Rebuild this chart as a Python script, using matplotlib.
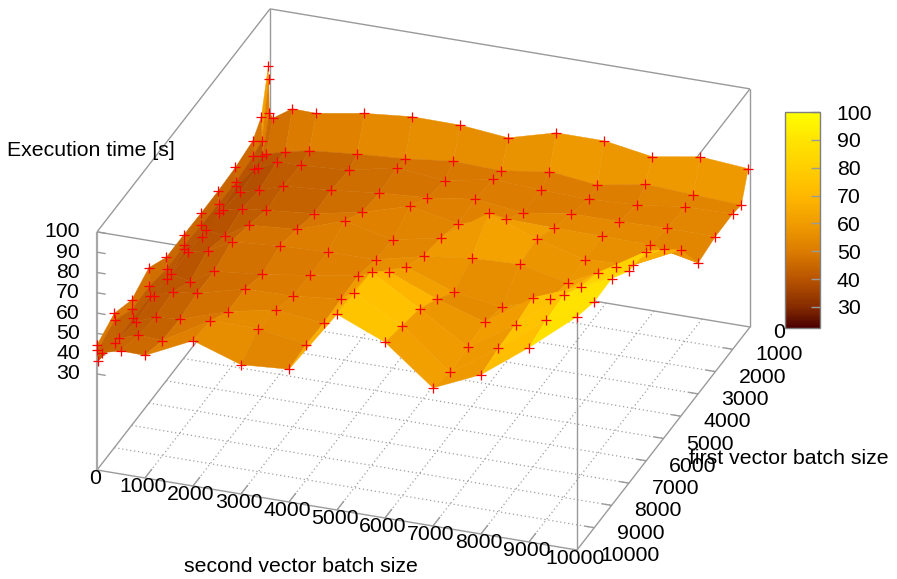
import numpy as np
import matplotlib
matplotlib.use('Agg')
import matplotlib.pyplot as plt
from matplotlib.collections import PolyCollection, LineCollection
from matplotlib.colors import LinearSegmentedColormap, Normalize
from matplotlib.cm import ScalarMappable

plt.rcParams['font.family'] = ['Liberation Sans', 'DejaVu Sans']

# batch sizes of the measurements
second_batch = [1, 10, 20, 100, 500, 1000, 2000, 3000, 4000, 5000, 6000, 7000, 8000, 9000, 10000]
first_batch = [100, 500, 1000, 2000, 3000, 4000, 5000, 6000, 7000, 8000, 9000, 10000]

# execution time, one row per first batch size
t_100 = [72.9, 66.4, 49.9, 47.7, 53.9, 53.6, 57.5, 59.8, 59.6, 57.3, 63.7, 63.7, 59.8, 63.7, 61.8]
t_500 = [52.4, 40.6, 33.2, 34.4, 37.0, 39.6, 41.8, 43.5, 46.2, 45.4, 49.0, 46.3, 50.6, 49.4, 48.3]
t_1000 = [46.0, 38.5, 32.3, 32.8, 37.7, 37.9, 39.4, 44.6, 42.1, 46.7, 45.4, 44.8, 46.0, 49.0, 49.4]
t_2000 = [43.9, 36.8, 34.7, 32.2, 34.6, 38.7, 40.5, 43.1, 44.7, 47.9, 45.1, 48.7, 48.7, 49.4, 49.2]
t_3000 = [43.2, 37.0, 32.3, 34.3, 36.5, 37.7, 40.0, 44.6, 51.5, 46.8, 53.1, 52.6, 52.5, 52.1, 47.2]
t_4000 = [43.2, 37.5, 31.7, 35.4, 34.0, 41.4, 43.2, 51.3, 45.9, 50.9, 66.9, 58.1, 52.0, 53.2, 64.6]
t_5000 = [43.5, 38.6, 36.5, 35.7, 37.8, 44.2, 46.0, 47.0, 47.2, 52.7, 55.7, 56.7, 51.6, 63.1, 75.9]
t_6000 = [43.5, 37.9, 32.7, 35.7, 33.5, 40.6, 43.0, 46.5, 50.2, 58.6, 49.9, 46.7, 54.4, 71.4, 85.8]
t_7000 = [49.4, 40.4, 35.5, 35.9, 39.5, 40.7, 46.8, 47.3, 49.6, 67.1, 57.5, 50.1, 66.1, 75.5, 87.2]
t_8000 = [44.5, 39.9, 35.8, 34.2, 38.1, 38.9, 46.6, 51.4, 48.8, 78.1, 63.8, 48.9, 63.8, 82.3, 94.4]
t_9000 = [48.9, 45.6, 34.4, 37.0, 40.2, 39.4, 53.1, 53.1, 49.3, 78.5, 66.4, 47.4, 63.1, 81.1, 94.0]
t_10000 = [44.3, 41.8, 36.4, 40.9, 43.3, 43.1, 54.3, 46.4, 48.1, 79.1, 69.3, 50.7, 61.2, 78.5, 97.6]
times = np.array([t_100, t_500, t_1000, t_2000, t_3000, t_4000, t_5000, t_6000,
                  t_7000, t_8000, t_9000, t_10000])

x_ticks = [0, 1000, 2000, 3000, 4000, 5000, 6000, 7000, 8000, 9000, 10000]
y_ticks = [0, 1000, 2000, 3000, 4000, 5000, 6000, 7000, 8000, 9000, 10000]
z_ticks = [30, 40, 50, 60, 70, 80, 90, 100]
cb_ticks = [30, 40, 50, 60, 70, 80, 90, 100]

z_bottom = -17.3
cb_low = 22.4
cb_high = 100

gray = '#9a9a9a'
fs = 15.3


def proj(x, y, z=z_bottom):
    # gnuplot style parallel projection, in pixels of the picture
    x = np.asarray(x, dtype=float)
    y = np.asarray(y, dtype=float)
    z = np.asarray(z, dtype=float)
    px = 97 + 480 * x / 10000 + 173 * (10000 - y) / 10000
    py = 470 + 80 * x / 10000 - 223 * (10000 - y) / 10000 - 2.03 * (z - z_bottom)
    return px, py


def seg(a, b):
    return [tuple(float(v) for v in proj(*a)), tuple(float(v) for v in proj(*b))]


fig = plt.figure(figsize=(8.97, 5.79), dpi=100)
ax = fig.add_axes([0, 0, 1, 1])
ax.set_xlim(0, 897)
ax.set_ylim(579, 0)
ax.axis('off')

# box behind the surface
box = [seg((0, 10000), (10000, 10000)), seg((10000, 10000), (10000, 0)),
       seg((10000, 0), (0, 0)), seg((0, 0), (0, 10000)),
       seg((0, 10000, 100), (0, 0, 100)), seg((0, 0, 100), (10000, 0, 100)),
       seg((0, 10000, 100), (10000, 10000, 100)), seg((10000, 10000, 100), (10000, 0, 100)),
       seg((0, 0), (0, 0, 100)), seg((10000, 0), (10000, 0, 100)),
       seg((10000, 10000), (10000, 10000, 100))]
ax.add_collection(LineCollection(box, colors=gray, linewidths=1.0, zorder=1))
ax.add_collection(LineCollection([seg((0, 10000), (0, 10000, 100))], colors='#a8a8a8',
                                 linewidths=1.6, zorder=1))

# dotted floor grid
grid = [seg((v, 0), (v, 10000)) for v in x_ticks[1:-1]] + [seg((0, v), (10000, v)) for v in y_ticks[1:-1]]
ax.add_collection(LineCollection(grid, colors='#a0a0a0', linewidths=0.9, linestyles=(0, (1, 2.2)), zorder=1))

# tick marks
marks = [seg((v, 10000), (v, 9600)) for v in x_ticks[1:-1]] + [seg((10000, v), (9800, v)) for v in y_ticks[1:-1]]
ax.add_collection(LineCollection(marks, colors=gray, linewidths=1.0, zorder=1))
z_marks = [seg((0, 10000, v), (180, 10000, v)) for v in z_ticks]
ax.add_collection(LineCollection(z_marks, colors=gray, linewidths=1.0, zorder=1))

# surface, back to front
cmap = LinearSegmentedColormap.from_list('hotish', [
    (0.0, '#4a0000'),
    ((30 - cb_low) / (cb_high - cb_low), '#862c00'),
    ((40 - cb_low) / (cb_high - cb_low), '#b85400'),
    ((50 - cb_low) / (cb_high - cb_low), '#dc7c00'),
    ((60 - cb_low) / (cb_high - cb_low), '#f09c00'),
    ((70 - cb_low) / (cb_high - cb_low), '#ffb800'),
    ((80 - cb_low) / (cb_high - cb_low), '#ffcf00'),
    ((90 - cb_low) / (cb_high - cb_low), '#ffe400'),
    (1.0, '#ffff00')])
norm = Normalize(cb_low, cb_high)
surf_norm = Normalize(cb_low - 6, cb_high)

polys = []
means = []
for j in range(len(first_batch) - 1):
    for i in range(len(second_batch) - 1):
        xs = [second_batch[i], second_batch[i + 1], second_batch[i + 1], second_batch[i]]
        ys = [first_batch[j], first_batch[j], first_batch[j + 1], first_batch[j + 1]]
        zs = [times[j, i], times[j, i + 1], times[j + 1, i + 1], times[j + 1, i]]
        px, py = proj(xs, ys, zs)
        polys.append(np.column_stack([px, py]))
        means.append(np.mean(zs))
surface = PolyCollection(polys, array=np.array(means), cmap=cmap, norm=surf_norm,
                         edgecolors='face', linewidths=0.3, zorder=2)
ax.add_collection(surface)

# measured points
gx, gy = np.meshgrid(second_batch, first_batch)
px, py = proj(gx.ravel(), gy.ravel(), times.ravel())
ax.scatter(px, py, marker='+', s=48, c='#ff0000', linewidths=0.9, zorder=3)

# tick labels
for v in z_ticks:
    tx, ty = proj(0, 10000, v)
    ax.text(tx - 17, ty, str(v), ha='right', va='center', fontsize=fs, zorder=4)
for v in x_ticks:
    tx, ty = proj(v, 10000)
    ax.text(tx - 2, ty + 8.5, str(v), ha='center', va='center', fontsize=fs, zorder=4)
for v in y_ticks:
    tx, ty = proj(10000, v)
    ax.text(tx + 23, ty + 5.5, str(v), ha='left', va='center', fontsize=fs, zorder=4)

ax.text(7, 151, 'Execution time [s]', ha='left', va='center', fontsize=fs, zorder=4)
ax.text(301, 566, 'second vector batch size', ha='center', va='center', fontsize=fs, zorder=4)
ax.text(789, 458, 'first vector batch size', ha='center', va='center', fontsize=fs, zorder=4)

# colour box
cax = fig.add_axes([785 / 897, 1 - 328 / 579, 35 / 897, 216 / 579])
cb = fig.colorbar(ScalarMappable(norm=norm, cmap=cmap), cax=cax, ticks=cb_ticks)
cb.outline.set_edgecolor('#7f7f7f')
cb.outline.set_linewidth(1.0)
cb.ax.tick_params(direction='in', length=6.5, width=1.0, color=gray, labelsize=fs, pad=12)

fig.savefig('out.png', dpi=100)
